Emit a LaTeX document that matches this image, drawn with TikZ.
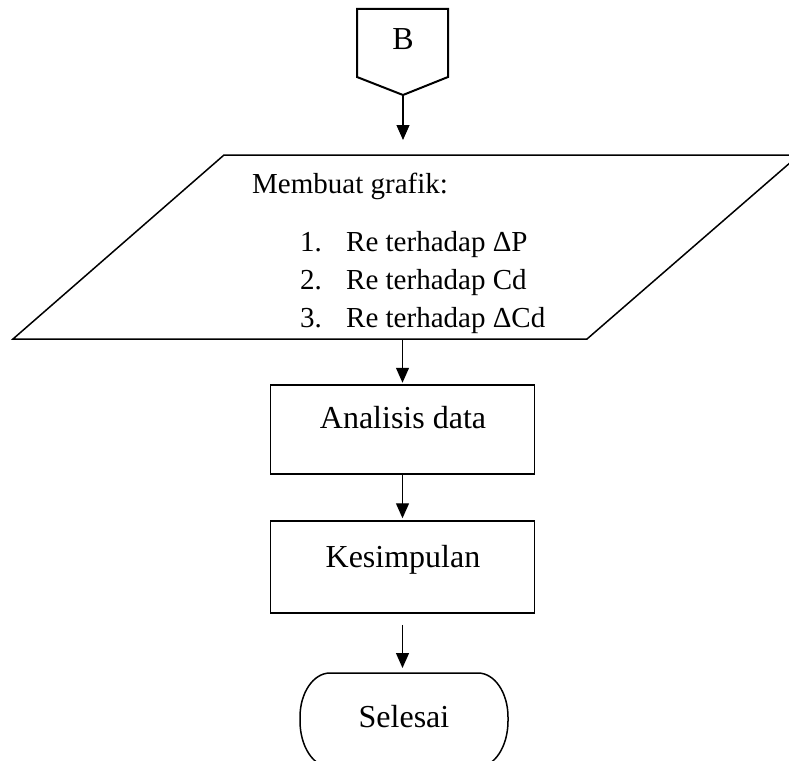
\documentclass[tikz,border=0pt]{standalone}
\usepackage{fontspec}
\setmainfont{Liberation Serif}
\usetikzlibrary{arrows.meta}
\begin{document}
\begin{tikzpicture}[x=1pt,y=-1pt, line join=miter,
  outl/.style={draw, line width=1.5pt},
  box/.style={draw, line width=1.5pt, minimum width=264pt, inner sep=0pt},
  conn/.style={-{Triangle[length=15pt,width=13pt]}, line width=1.2pt},
  big/.style={font=\fontsize{32}{38}\selectfont, inner sep=0pt, anchor=base},
  med/.style={font=\fontsize{29}{35}\selectfont, inner sep=0pt, anchor=base west}]
\useasboundingbox (0,0) rectangle (789,760);
% off-page connector B
\draw[outl, line width=2pt] (357,9) -- (448,9) -- (448,77) -- (403,95) -- (357,77) -- cycle;
\node[big] (B) at (403,50) {B};
\coordinate (Bpt) at (403,95);
% parallelogram
\draw[outl] (224,155) -- (799,155) -- (587,339) -- (13,339) -- cycle;
\coordinate (ptop) at (403,155);
\coordinate (pbot) at (402.5,339);
\node[med] (mg) at (252,193) {Membuat grafik:};
\node[med] (n1) at (300,251) {1.};
\node[med] (t1) at (346,251) {Re terhadap ΔP};
\node[med] (n2) at (300,289) {2.};
\node[med] (t2) at (346,289) {Re terhadap Cd};
\node[med] (n3) at (300,327) {3.};
\node[med] (t3) at (346,327) {Re terhadap ΔCd};
% process boxes
\node[box, minimum height=89pt] (ana) at (402.5,429.5) {};
\node[big] (anat) at (403,428) {Analisis data};
\node[box, minimum height=92pt] (kes) at (402.5,567) {};
\node[big] (kest) at (403,567) {Kesimpulan};
% terminator (bottom runs past the picture's edge)
\draw[outl] (330,673) -- (478,673)
  arc[start angle=-90,end angle=0,x radius=30,y radius=44] -- (508,721)
  arc[start angle=0,end angle=90,x radius=30,y radius=46] -- (330,767)
  arc[start angle=90,end angle=180,x radius=30,y radius=46] -- (300,717)
  arc[start angle=180,end angle=270,x radius=30,y radius=44] -- cycle;
\coordinate (stop) at (402.5,673);
\node[big] (selt) at (404,727) {Selesai};
% connectors
\draw[conn, shorten >=15pt] (Bpt) -- (ptop);
\draw[conn, shorten >=1.5pt] (pbot) -- (ana.north);
\draw[conn, shorten >=2pt] (ana.south) -- (kes.north);
\draw[conn, shorten <=11pt, shorten >=5pt] (kes.south) -- (stop);
\end{tikzpicture}
\end{document}
